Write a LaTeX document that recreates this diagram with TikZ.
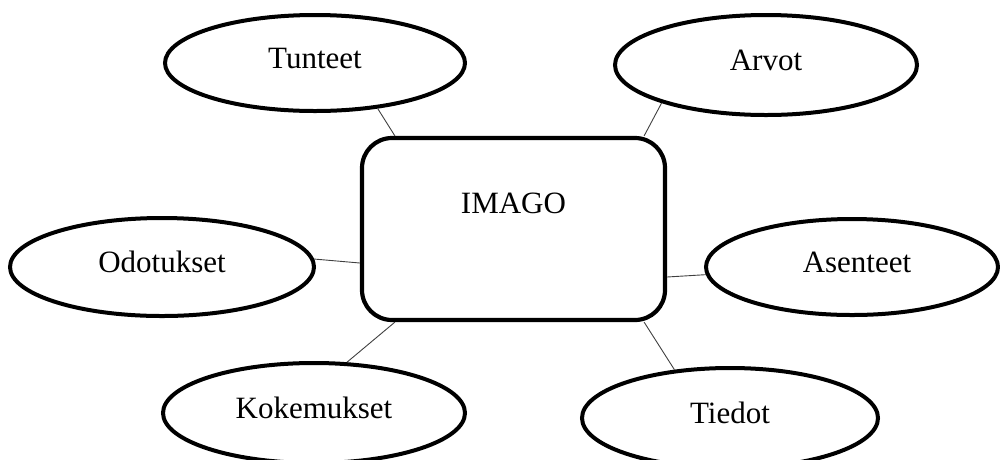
\documentclass[tikz,border=0pt]{standalone}
\usepackage{fontspec}
\setmainfont{Liberation Serif}
\usetikzlibrary{shapes.geometric}

\tikzset{
  bubble/.style={ellipse, draw=black, line width=4pt, fill=white, inner sep=0pt,
    font=\fontsize{31}{37}\selectfont, text height=20pt, text depth=10pt},
  core/.style={rectangle, draw=black, line width=4.2pt, fill=white, rounded corners=30pt,
    minimum width=303pt, minimum height=182pt, inner sep=0pt,
    font=\fontsize{31}{37}\selectfont, text height=20pt, text depth=52pt},
  link/.style={draw=black!75, line width=0.9pt}
}

\begin{document}
\begin{tikzpicture}[x=1pt, y=-1pt]
  \clip (0,0) rectangle (1000,459);

  % central concept
  \node[core] (box) at (513.5,229) {IMAGO};

  % surrounding concepts
  \node[bubble, minimum width=300pt, minimum height=96pt]  (tun) at (315,63)  {Tunteet};
  \node[bubble, minimum width=302pt, minimum height=100pt] (arv) at (766,65)  {Arvot};
  \node[bubble, minimum width=304pt, minimum height=98pt]  (odo) at (162,267) {Odotukset};
  \node[bubble, minimum width=292pt, minimum height=96pt]  (ase) at (852,267) {\hspace{10pt}Asenteet};
  \node[bubble, minimum width=302pt, minimum height=100pt] (kok) at (314,413) {Kokemukset};
  \node[bubble, minimum width=296pt, minimum height=100pt] (tie) at (730,418) {Tiedot};

  % connectors from each concept to the central box
  \draw[link] (tun.-36)  -- ([xshift=35pt]box.north west);
  \draw[link] (arv.-160) -- ([xshift=-23pt]box.north east);
  \draw[link] (odo.3)    -- ([yshift=-34pt]box.west);
  \draw[link] (ase.183)  -- ([yshift=-48pt]box.east);
  \draw[link] (kok.57)   -- ([xshift=35pt]box.south west);
  \draw[link] (tie.139)  -- ([xshift=-23pt]box.south east);
\end{tikzpicture}
\end{document}
